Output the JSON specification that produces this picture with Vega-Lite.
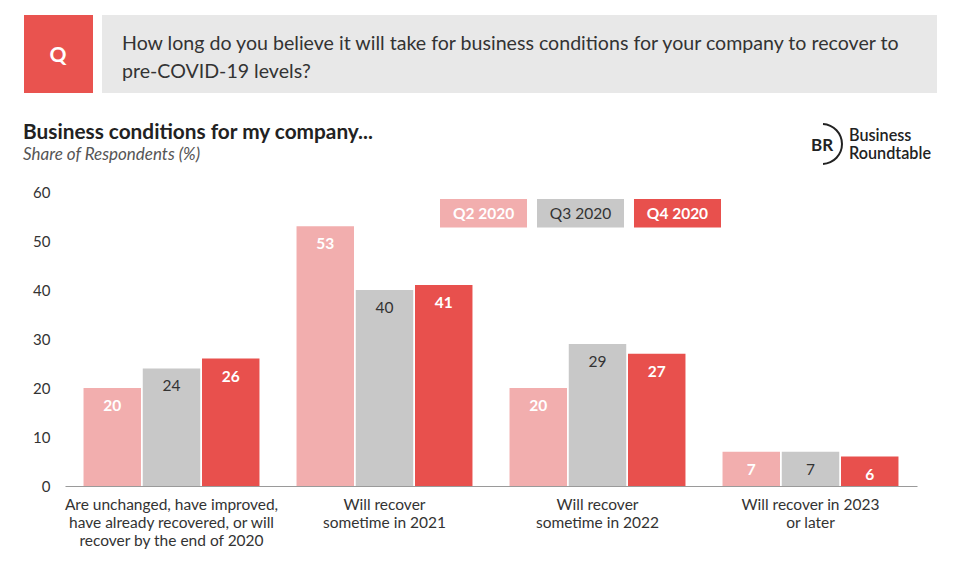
{
  "$schema": "https://vega.github.io/schema/vega-lite/v6.json",
  "width": 852,
  "height": 294,
  "autosize": {"type": "none"},
  "padding": {"left": 65, "top": 192, "right": 43, "bottom": 78},
  "background": "white",
  "config": {"view": {"stroke": null}, "font": "Lato"},
  "datasets": {
    "survey": [
      {"category": "Are unchanged, have improved, have already recovered, or will recover by the end of 2020", "series": "Q2 2020", "share": 20},
      {"category": "Are unchanged, have improved, have already recovered, or will recover by the end of 2020", "series": "Q3 2020", "share": 24},
      {"category": "Are unchanged, have improved, have already recovered, or will recover by the end of 2020", "series": "Q4 2020", "share": 26},
      {"category": "Will recover sometime in 2021", "series": "Q2 2020", "share": 53},
      {"category": "Will recover sometime in 2021", "series": "Q3 2020", "share": 40},
      {"category": "Will recover sometime in 2021", "series": "Q4 2020", "share": 41},
      {"category": "Will recover sometime in 2022", "series": "Q2 2020", "share": 20},
      {"category": "Will recover sometime in 2022", "series": "Q3 2020", "share": 29},
      {"category": "Will recover sometime in 2022", "series": "Q4 2020", "share": 27},
      {"category": "Will recover in 2023 or later", "series": "Q2 2020", "share": 7},
      {"category": "Will recover in 2023 or later", "series": "Q3 2020", "share": 7},
      {"category": "Will recover in 2023 or later", "series": "Q4 2020", "share": 6}
    ],
    "series": [{"series": "Q2 2020"}, {"series": "Q3 2020"}, {"series": "Q4 2020"}],
    "header": [{"q": "Q", "question": ["How long do you believe it will take for business conditions for your company to recover to", "pre-COVID-19 levels?"], "title": "Business conditions for my company...", "subtitle": "Share of Respondents (%)", "br": "BR", "org": ["Business", "Roundtable"]}]
  },
  "resolve": {"scale": {"x": "independent"}, "axis": {"x": "independent", "y": "independent"}},
  "layer": [
    {
      "data": {"name": "survey"},
      "encoding": {
        "x": {
          "field": "category", "type": "nominal", "sort": null,
          "scale": {"paddingInner": 0.174, "paddingOuter": 0.087},
          "axis": {
            "title": null, "labelAngle": 0, "ticks": false, "domainColor": "#9a9a9a", "domainWidth": 1.2,
            "labelFontSize": 15.5, "labelColor": "#333333", "labelPadding": 11, "labelLineHeight": 18, "labelLimit": 300,
            "labelExpr": "datum.value == 'Will recover sometime in 2021' ? ['Will recover', 'sometime in 2021'] : datum.value == 'Will recover sometime in 2022' ? ['Will recover', 'sometime in 2022'] : datum.value == 'Will recover in 2023 or later' ? ['Will recover in 2023', 'or later'] : ['Are unchanged, have improved,', 'have already recovered, or will', 'recover by the end of 2020']"
          }
        },
        "xOffset": {"field": "series", "type": "nominal", "sort": ["Q2 2020", "Q3 2020", "Q4 2020"], "scale": {"paddingInner": 0.03}},
        "y": {
          "field": "share", "type": "quantitative",
          "scale": {"domain": [0, 60], "nice": false, "zero": true},
          "axis": {"title": null, "domain": false, "ticks": false, "grid": false, "values": [0, 10, 20, 30, 40, 50, 60], "labelFontSize": 15, "labelColor": "#333333", "labelPadding": 15}
        }
      },
      "layer": [
        {
          "mark": {"type": "bar"},
          "encoding": {
            "color": {"field": "series", "type": "nominal", "scale": {"domain": ["Q2 2020", "Q3 2020", "Q4 2020"], "range": ["#f2aeae", "#c8c8c8", "#e8504d"]}, "legend": null}
          }
        },
        {
          "transform": [{"filter": "datum.series != 'Q3 2020'"}],
          "mark": {"type": "text", "baseline": "middle", "dy": 18, "fontSize": 15.5, "fontWeight": "bold", "color": "white"},
          "encoding": {"text": {"field": "share", "type": "quantitative"}}
        },
        {
          "transform": [{"filter": "datum.series == 'Q3 2020'"}],
          "mark": {"type": "text", "baseline": "middle", "dy": 18, "fontSize": 15.5, "color": "#333333"},
          "encoding": {"text": {"field": "share", "type": "quantitative"}}
        }
      ]
    },
    {
      "data": {"name": "series"},
      "encoding": {
        "x": {"field": "series", "type": "nominal", "sort": ["Q2 2020", "Q3 2020", "Q4 2020"], "scale": {"type": "band", "range": [375, 656], "paddingInner": 0.103, "paddingOuter": 0}, "axis": null}
      },
      "layer": [
        {
          "mark": {"type": "rect"},
          "encoding": {
            "y": {"datum": 58.57, "type": "quantitative", "axis": null},
            "y2": {"datum": 52.75},
            "color": {"field": "series", "type": "nominal", "legend": null}
          }
        },
        {
          "transform": [{"filter": "datum.series != 'Q3 2020'"}],
          "mark": {"type": "text", "baseline": "middle", "fontSize": 15.5, "fontWeight": "bold", "color": "white"},
          "encoding": {"y": {"datum": 55.6, "type": "quantitative", "axis": null}, "text": {"field": "series"}}
        },
        {
          "transform": [{"filter": "datum.series == 'Q3 2020'"}],
          "mark": {"type": "text", "baseline": "middle", "fontSize": 15.5, "color": "#333333"},
          "encoding": {"y": {"datum": 55.6, "type": "quantitative", "axis": null}, "text": {"field": "series"}}
        }
      ]
    },
    {
      "data": {"name": "header"},
      "layer": [
        {
          "mark": {"type": "rect", "color": "#e9534f"},
          "encoding": {
            "x": {"datum": -41, "type": "quantitative", "scale": {"domain": [0, 852], "nice": false, "zero": false}, "axis": null},
            "x2": {"datum": 28},
            "y": {"datum": 96.12, "type": "quantitative", "axis": null},
            "y2": {"datum": 80.2}
          }
        },
        {
          "mark": {"type": "rect", "color": "#e8e8e8"},
          "encoding": {
            "x": {"datum": 37, "type": "quantitative", "axis": null},
            "x2": {"datum": 872},
            "y": {"datum": 96.12, "type": "quantitative", "axis": null},
            "y2": {"datum": 80.2}
          }
        },
        {
          "mark": {"type": "text", "align": "center", "baseline": "middle", "fontSize": 21, "fontWeight": "bold", "color": "white"},
          "encoding": {
            "x": {"datum": -7, "type": "quantitative", "axis": null},
            "y": {"datum": 87.76, "type": "quantitative", "axis": null},
            "text": {"field": "q"}
          }
        },
        {
          "mark": {"type": "text", "align": "left", "baseline": "middle", "fontSize": 19.6, "lineHeight": 28, "color": "#333333"},
          "encoding": {
            "x": {"datum": 57, "type": "quantitative", "axis": null},
            "y": {"datum": 90.2, "type": "quantitative", "axis": null},
            "text": {"field": "question"}
          }
        },
        {
          "mark": {"type": "text", "align": "left", "baseline": "middle", "fontSize": 20.8, "fontWeight": "bold", "color": "#222222"},
          "encoding": {
            "x": {"datum": -42, "type": "quantitative", "axis": null},
            "y": {"datum": 72.04, "type": "quantitative", "axis": null},
            "text": {"field": "title"}
          }
        },
        {
          "mark": {"type": "text", "align": "left", "baseline": "middle", "fontSize": 17, "fontStyle": "italic", "color": "#555555"},
          "encoding": {
            "x": {"datum": -42, "type": "quantitative", "axis": null},
            "y": {"datum": 67.55, "type": "quantitative", "axis": null},
            "text": {"field": "subtitle"}
          }
        },
        {
          "mark": {"type": "text", "align": "center", "baseline": "middle", "fontSize": 17, "fontWeight": "bold", "color": "#222222"},
          "encoding": {
            "x": {"datum": 757, "type": "quantitative", "axis": null},
            "y": {"datum": 69.39, "type": "quantitative", "axis": null},
            "text": {"field": "br"}
          }
        },
        {
          "mark": {"type": "arc", "theta": 0.05, "theta2": 3.09, "radius": 19, "radius2": 21, "color": "#222222"},
          "encoding": {
            "x": {"datum": 757, "type": "quantitative", "axis": null},
            "y": {"datum": 69.8, "type": "quantitative", "axis": null}
          }
        },
        {
          "mark": {"type": "text", "align": "left", "baseline": "middle", "fontSize": 16.2, "fontWeight": 600, "lineHeight": 18, "color": "#222222"},
          "encoding": {
            "x": {"datum": 784, "type": "quantitative", "axis": null},
            "y": {"datum": 71.43, "type": "quantitative", "axis": null},
            "text": {"field": "org"}
          }
        }
      ]
    }
  ]
}
